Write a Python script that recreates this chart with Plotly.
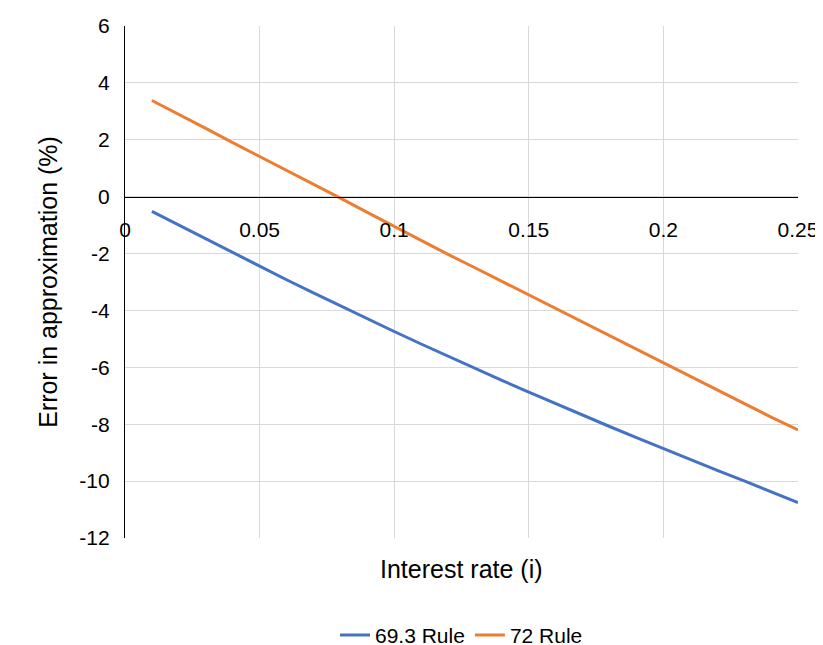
import plotly.graph_objects as go

rates = [round(0.01*k, 2) for k in range(1, 26)]
rule693 = [-0.52, -1.0, -1.5, -1.97, -2.45, -2.92, -3.38, -3.84, -4.29, -4.74, -5.18, -5.61, -6.04,
           -6.46, -6.87, -7.28, -7.69, -8.08, -8.47, -8.86, -9.24, -9.62, -9.99, -10.37, -10.76]
rule72 = [3.38, 2.9, 2.4, 1.9, 1.42, 0.93, 0.45, -0.05, -0.55, -1.05, -1.55, -2.03, -2.5,
          -2.98, -3.45, -3.93, -4.41, -4.89, -5.37, -5.85, -6.33, -6.81, -7.29, -7.75, -8.2]
y_ticks = [6, 4, 2, 0, -2, -4, -6, -8, -10, -12]
y_labels = ["6", "4", "2", "0", "-2", "-4", "-6", "-8", "-10", "-12"]

fig = go.Figure()
fig.add_trace(go.Scatter(x=rates, y=rule693, mode="lines", name="69.3 Rule",
                         line=dict(color="#4472C4", width=3)))
fig.add_trace(go.Scatter(x=rates, y=rule72, mode="lines", name="72 Rule",
                         line=dict(color="#ED7D31", width=3)))
fig.update_layout(
    width=823, height=645, paper_bgcolor="white", plot_bgcolor="white",
    margin=dict(l=117, r=33, t=18, b=115, autoexpand=False),
    font=dict(family="Liberation Sans, Open Sans, sans-serif", size=21, color="#000"),
    xaxis=dict(range=[0, 0.25], dtick=0.05, tick0=0, showgrid=True, gridcolor="#d9d9d9",
               gridwidth=1, anchor="free", position=(530-188.7)/512, showline=True,
               linecolor="black", linewidth=1.3, ticks="", zeroline=False, automargin=False,
               tickformat="~g", ticklabelstandoff=14),
    yaxis=dict(range=[-12, 6], tickvals=y_ticks, ticktext=y_labels, showgrid=True,
               gridcolor="#d9d9d9", gridwidth=1, automargin=False,
               zeroline=False, showline=True, linecolor="black", linewidth=1.3, ticks="",
               ticklabelstandoff=10,
               title=dict(text="Error in approximation (%)", font=dict(size=25), standoff=14)),
    legend=dict(orientation="h", x=0.5, xanchor="center", y=-0.19, yanchor="middle",
                font=dict(size=21)),
    annotations=[dict(text="Interest rate (i)", x=0.5, xref="paper", y=-0.03, yref="paper",
                      yanchor="top", showarrow=False, font=dict(size=25))],
)
fig.write_html("out.html")
